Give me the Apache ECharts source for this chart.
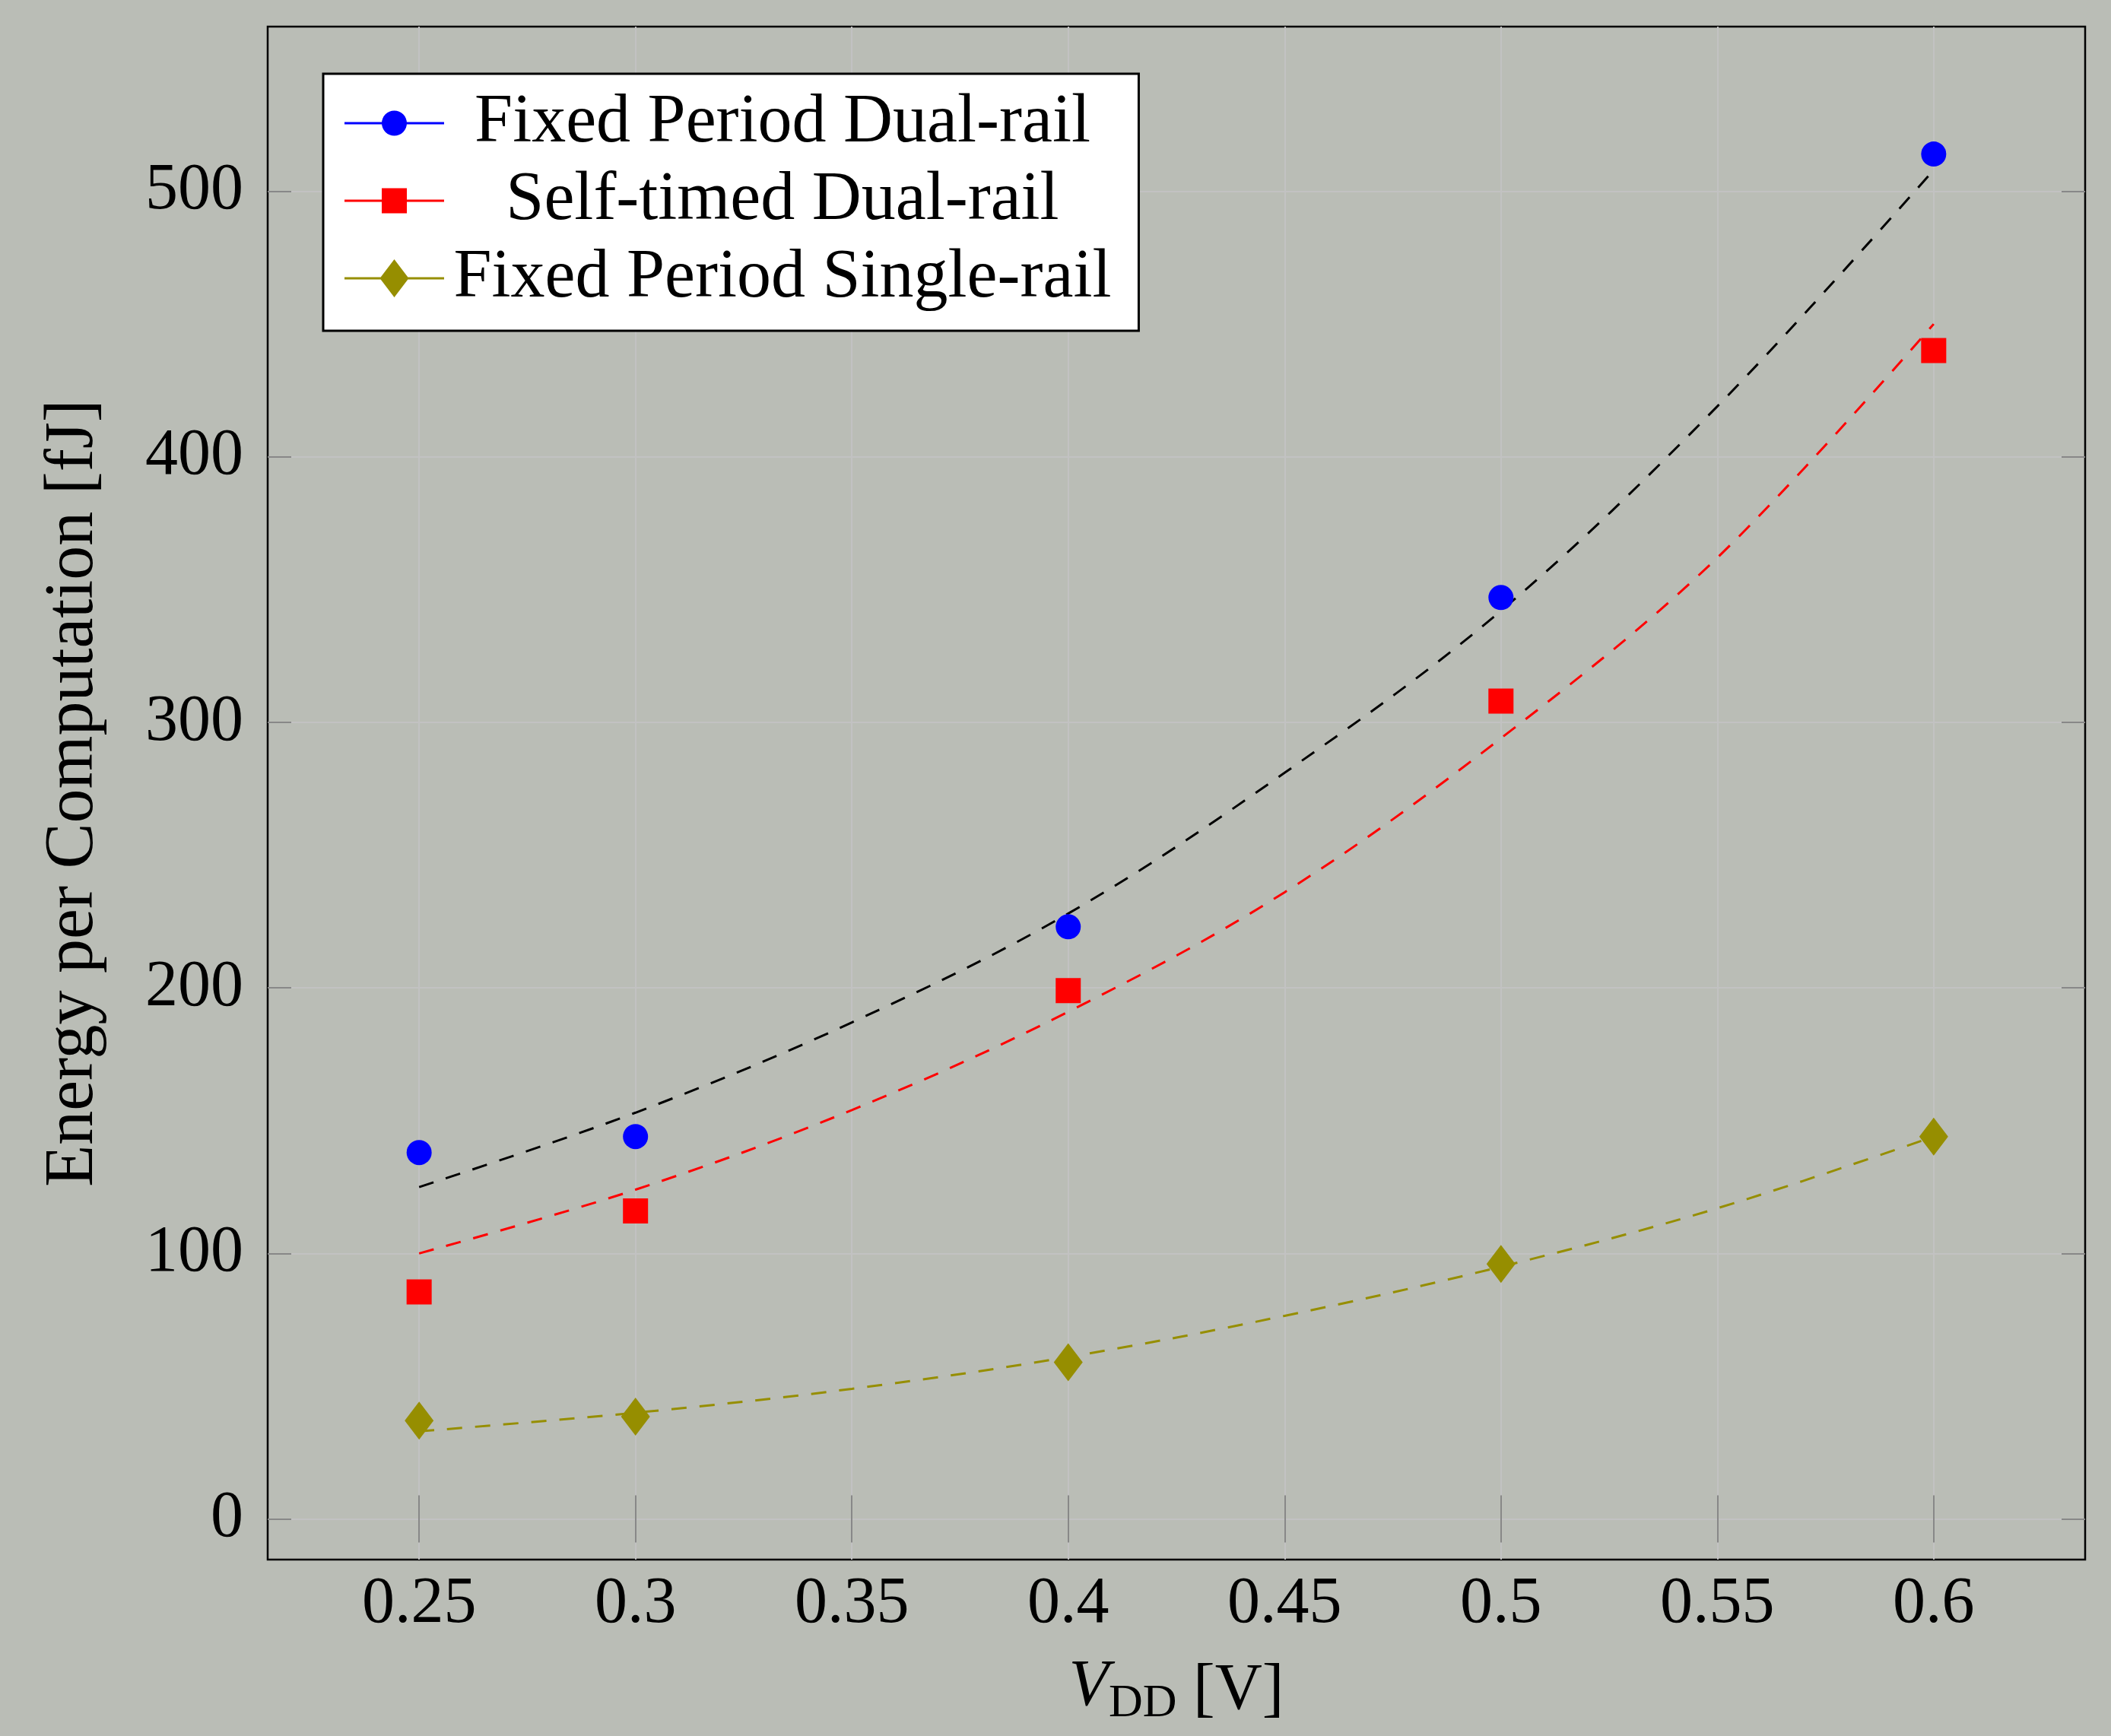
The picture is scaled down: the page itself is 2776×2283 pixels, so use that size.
<!DOCTYPE html>
<html>
<head>
<meta charset="utf-8">
<script src="https://cdn.jsdelivr.net/npm/echarts@6/dist/echarts.min.js"></script>
<style>
html,body{margin:0;padding:0;background:#BABDB6;}
#chart{width:2776px;height:2283px;}
</style>
</head>
<body>
<div id="chart"></div>
<script>
// ---- data ----
const vdd = [0.25, 0.3, 0.4, 0.5, 0.6];
const fixedDual = [138, 144, 223, 347, 514];
const selfTimedDual = [85.5, 116, 199, 308, 440];
const fixedSingle = [37, 38.5, 59, 96, 144];

// dashed fit curves, read at these x positions
const fitX = [0.25, 0.3, 0.35, 0.4, 0.45, 0.5, 0.55, 0.6];
const fitFixedDual = [125, 153, 187, 228, 281, 342, 419, 508];
const fitSelfTimedDual = [100, 124, 154, 191, 236, 294, 362, 450];
const fitFixedSingle = [33, 40, 49, 61, 76.5, 95, 117, 144];

const xTicks = [0.25, 0.3, 0.35, 0.4, 0.45, 0.5, 0.55, 0.6];
const yTicks = [0, 100, 200, 300, 400, 500];

const names = ['Fixed Period Dual-rail', 'Self-timed Dual-rail', 'Fixed Period Single-rail'];
const colors = ['#0000FF', '#FF0000', '#968E00'];
const fitColors = ['#000000', '#FF0000', '#968E00'];

const FONT = 'Liberation Serif';
const FS = 86;

const zip = (xs, ys) => xs.map((x, i) => [x, ys[i]]);

// legend icons: a line with the marker in its middle (131 x 50 box)
const frame = 'M0 0 L0.01 0 Z M131 50 L130.99 50 Z ';
const lineRect = 'M0 23.5 L131 23.5 L131 26.5 L0 26.5 Z ';
const legendIcons = [
  'path://' + frame + lineRect + 'M49 25 A16.5 16.5 0 1 1 82 25 A16.5 16.5 0 1 1 49 25 Z',
  'path://' + frame + lineRect + 'M49 8.5 L82 8.5 L82 41.5 L49 41.5 Z',
  'path://' + frame + lineRect + 'M65.5 0 L84.5 25 L65.5 50 L46.5 25 Z'
];

const chart = echarts.init(document.getElementById('chart'), null, {renderer: 'canvas'});

const tickStyle = {show: true, inside: true, length: 31, lineStyle: {color: '#888888', width: 2}};

const xBase = {
  type: 'value', min: 0.215, max: 0.635,
  axisLine: {show: false},
};
const yBase = {
  type: 'value', min: -15.3, max: 562,
  axisLine: {show: false},
};

const fits = [fitFixedDual, fitSelfTimedDual, fitFixedSingle];
const marks = [fixedDual, selfTimedDual, fixedSingle];
const symbols = ['circle', 'rect', 'diamond'];
const sizes = [33, 33, [38, 50]];

const series = [];
fits.forEach((f, i) => {
  series.push({
    name: 'fit' + i, type: 'line', data: zip(fitX, f), smooth: 0.35,
    symbol: 'none', silent: true, z: 2,
    lineStyle: {color: fitColors[i], width: 3, type: [20, 17]}
  });
});
marks.forEach((m, i) => {
  series.push({
    name: names[i], type: 'line', data: zip(vdd, m),
    symbol: symbols[i], symbolSize: sizes[i], showSymbol: true, z: 5,
    itemStyle: {color: colors[i]},
    lineStyle: {color: colors[i], opacity: 0, width: 0}
  });
});

chart.setOption({
  animation: false,
  backgroundColor: '#BABDB6',
  textStyle: {fontFamily: FONT},
  grid: {
    left: 352, right: 34, top: 35, bottom: 232,
    show: true, borderColor: '#000', borderWidth: 2.5, backgroundColor: 'transparent'
  },
  legend: {
    data: names.map((n, i) => ({name: n, icon: legendIcons[i]})),
    orient: 'vertical',
    left: 425, top: 97,
    padding: [20, 36, 24, 28],
    itemGap: 12,
    itemWidth: 131, itemHeight: 50, itemTextGap: 6,
    backgroundColor: '#ffffff', borderColor: '#000000', borderWidth: 3,
    formatter: name => '{t|' + name + '}',
    textStyle: {
      fontFamily: FONT, fontSize: 90, color: '#000',
      rich: {t: {fontFamily: FONT, fontSize: 90, width: 880, align: 'center', color: '#000'}}
    }
  },
  xAxis: [
    Object.assign({}, xBase, {
      position: 'bottom',
      name: '{i|V}{s|DD} [V]',
      nameLocation: 'middle', nameGap: 125,
      nameTextStyle: {
        fontFamily: FONT, fontSize: FS, color: '#000',
        rich: {
          i: {fontFamily: FONT, fontSize: FS, fontStyle: 'italic', color: '#000', verticalAlign: 'bottom', padding: [0, 0, 10, 0]},
          s: {fontFamily: FONT, fontSize: 62, color: '#000', verticalAlign: 'bottom'}
        }
      },
      axisTick: Object.assign({}, tickStyle, {customValues: xTicks}),
      axisLabel: {show: true, customValues: xTicks, margin: 16, fontFamily: FONT, fontSize: FS, color: '#000',
        formatter: v => String(+v.toFixed(2))},
      splitLine: {show: true, lineStyle: {color: '#C2C2C2', width: 2}}
    }),
    Object.assign({}, xBase, {
      position: 'top',
      axisTick: Object.assign({}, tickStyle, {customValues: xTicks}),
      axisLabel: {show: false, customValues: xTicks},
      splitLine: {show: false}
    })
  ],
  yAxis: [
    Object.assign({}, yBase, {
      position: 'left',
      name: 'Energy per Computation [fJ]',
      nameLocation: 'middle', nameGap: 210, nameRotate: 90,
      nameTextStyle: {fontFamily: FONT, fontSize: 90, color: '#000'},
      axisTick: Object.assign({}, tickStyle, {customValues: yTicks}),
      axisLabel: {show: true, customValues: yTicks, margin: 32, fontFamily: FONT, fontSize: FS, color: '#000'},
      splitLine: {show: true, lineStyle: {color: '#C2C2C2', width: 2}}
    }),
    Object.assign({}, yBase, {
      position: 'right',
      axisTick: Object.assign({}, tickStyle, {customValues: yTicks}),
      axisLabel: {show: false, customValues: yTicks},
      splitLine: {show: false}
    })
  ],
  series: series
});
</script>
</body>
</html>
